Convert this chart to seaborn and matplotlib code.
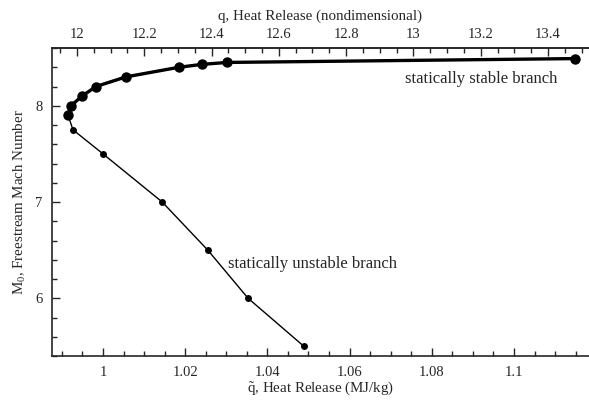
import matplotlib
matplotlib.use("Agg")
import matplotlib.pyplot as plt
import seaborn as sns
import pandas as pd
from matplotlib.ticker import MultipleLocator, FixedLocator

# Data
stable_qt = [0.9915, 0.9922, 0.9949, 0.9983, 1.0056, 1.0185, 1.0241, 1.0302, 1.1148]
stable_M = [7.90, 8.00, 8.10, 8.20, 8.30, 8.40, 8.43, 8.45, 8.49]
unstable_qt = [0.9915, 0.9927, 1.0000, 1.0144, 1.0255, 1.0353, 1.0489]
unstable_M = [7.90, 7.75, 7.50, 7.00, 6.50, 6.00, 5.50]
top_ticks = [12.0, 12.2, 12.4, 12.6, 12.8, 13.0, 13.2, 13.4]

bottom_label = r"$\mathrm{\tilde{q}}$, Heat Release (MJ/kg)"
top_label = "q, Heat Release (nondimensional)"
y_label = r"$\mathrm{M_0}$, Freestream Mach Number"
stable_text = "statically stable branch"
unstable_text = "statically unstable branch"

sns.set_style("ticks")
plt.rcParams["font.family"] = ["Liberation Serif", "DejaVu Serif"]
plt.rcParams["mathtext.fontset"] = "custom"
plt.rcParams["mathtext.rm"] = "Liberation Serif"
plt.rcParams["mathtext.it"] = "Liberation Serif:italic"

stable_df = pd.DataFrame({"qt": stable_qt, "M": stable_M})
unstable_df = pd.DataFrame({"qt": unstable_qt, "M": unstable_M})

fig = plt.figure(figsize=(5.89, 4.0), dpi=100)
ax = fig.add_axes([52 / 589, 1 - 356 / 400, 1 - 52 / 589, (356 - 48) / 400])

sns.lineplot(data=unstable_df, x="qt", y="M", sort=False, ax=ax, color="black",
             linewidth=1.0, marker="o", markersize=5, markeredgewidth=0)
sns.lineplot(data=stable_df, x="qt", y="M", sort=False, ax=ax, color="black",
             linewidth=2.4, marker="o", markersize=7.5, markeredgewidth=0)

ax.set_xlim(0.98759, 1.11825)
ax.set_ylim(5.4, 8.6)
ax.xaxis.set_major_locator(MultipleLocator(0.02))
ax.xaxis.set_minor_locator(MultipleLocator(0.005))
ax.yaxis.set_major_locator(MultipleLocator(1))
ax.yaxis.set_minor_locator(MultipleLocator(0.2))
ax.xaxis.set_major_formatter(plt.FuncFormatter(lambda v, p: f"{v:g}"))

for sp in ["left", "bottom", "top"]:
    ax.spines[sp].set_linewidth(1.2)
ax.spines["right"].set_visible(False)

ax.tick_params(which="major", direction="in", length=6, width=1, labelsize=10.5, top=False, right=False)
ax.tick_params(axis="x", which="major", pad=7)
ax.tick_params(axis="y", which="major", pad=7)
ax.tick_params(which="minor", direction="in", length=3.5, width=1, top=False, right=False)

def fwd(x):
    return 12.0773 + 12.2165 * (x - 1.0)

def inv(q):
    return 1.0 + (q - 12.0773) / 12.2165

sec = ax.secondary_xaxis("top", functions=(fwd, inv))
sec.xaxis.set_major_locator(FixedLocator(top_ticks))
sec.xaxis.set_minor_locator(FixedLocator([11.95 + 0.05 * i for i in range(32)]))
sec.xaxis.set_major_formatter(plt.FuncFormatter(lambda v, p: f"{v:g}"))
sec.tick_params(which="major", direction="in", length=6, width=1, labelsize=10.5, pad=5)
sec.tick_params(which="minor", direction="in", length=3.5, width=1)
sec.spines["top"].set_linewidth(1.2)
sec.set_xlabel(top_label, fontsize=10.8, labelpad=6)

ax.set_xlabel(bottom_label, fontsize=10.8, labelpad=1)
ax.set_ylabel(y_label, fontsize=10.8, labelpad=5)

ax.text(1.0735, 8.28, stable_text, fontsize=12, ha="left", va="center")
ax.text(1.0304, 6.36, unstable_text, fontsize=12, ha="left", va="center")

fig.savefig("out.png", dpi=100)
